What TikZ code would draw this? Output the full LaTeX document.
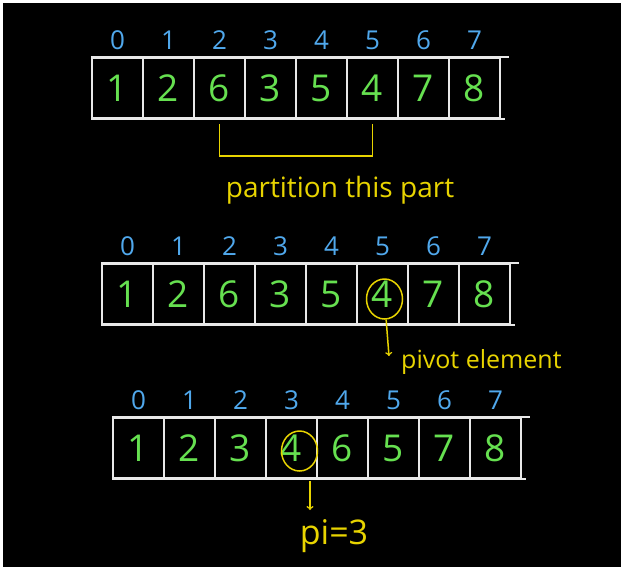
\documentclass[tikz,border=0pt]{standalone}
\usepackage{fontspec}
\setmainfont{Open Sans}
\usetikzlibrary{positioning,shapes.geometric}
\definecolor{gridwhite}{RGB}{232,232,232}
\definecolor{valgreen}{RGB}{102,224,80}
\definecolor{idxblue}{RGB}{80,168,236}
\definecolor{noteyellow}{RGB}{232,212,0}
\begin{document}
\begin{tikzpicture}[x=1pt,y=-1pt]
        \tikzstyle{cell}=[draw=gridwhite,line width=2.4pt,minimum width=51pt,minimum height=60pt,inner sep=0pt,text=valgreen,font=\fontsize{37}{37}\selectfont]
        \tikzstyle{index}=[text=idxblue,inner sep=0pt,font=\fontsize{26}{26}\selectfont]
        \tikzstyle{note}=[text=noteyellow,inner sep=0pt,font=\fontsize{28}{28}\selectfont]
        \tikzstyle{ring}=[ellipse,draw=noteyellow,line width=1.5pt,minimum width=36pt,minimum height=40pt]
        \tikzstyle{grid}=[draw=gridwhite,line width=2.4pt]
        \tikzstyle{pointer}=[draw=noteyellow,line width=1.5pt,->]
        \useasboundingbox[fill=white] (0,0) rectangle (624,571);
        \fill[black] (3,3) rectangle (621,567);
       % array before partition
       \begin{scope}
         \foreach \v [count=\i from 0] in {1,2,6,3,5,4,7,8}
           \node [cell] (a\i) at (117.5+51*\i,88) {\v};
         \foreach \i in {0,...,7}
           \node [index,above=7pt of a\i] (ia\i) {\i};
         \path[grid] (a0.north west) edge ([xshift=8pt]a7.north east);
         \path[grid] (a0.south west) edge ([xshift=4pt]a7.south east);
         \draw[noteyellow,line width=1.8pt] ([yshift=-5pt]a2.south) -- ++(0,32) -| ([yshift=-5pt]a5.south);
         \node [note] (part) at (340,190) {partition this part};
        \end{scope}
       % pivot chosen
       \begin{scope}
         \foreach \v [count=\i from 0] in {1,2,6,3,5,4,7,8}
           \node [cell] (b\i) at (127.5+51*\i,294) {\v};
         \foreach \i in {0,...,7}
           \node [index,above=7pt of b\i] (ib\i) {\i};
         \path[grid] (b0.north west) edge ([xshift=8pt]b7.north east);
         \path[grid] (b0.south west) edge ([xshift=4pt]b7.south east);
         \node [ring] (pa) at ([xshift=2pt,yshift=-5pt]b5.center) {};
         \node [note,font=\fontsize{25}{25}\selectfont,anchor=west] (pivot) at (401,362) {pivot element};
         \coordinate (pend) at (389,356);
         \draw[pointer] (pa) -- (pend);
        \end{scope}
       % after partition
       \begin{scope}
         \foreach \v [count=\i from 0] in {1,2,3,4,6,5,7,8}
           \node [cell] (c\i) at (138.5+51*\i,448) {\v};
         \foreach \i in {0,...,7}
           \node [index,above=7pt of c\i] (ic\i) {\i};
         \path[grid] (c0.north west) edge ([xshift=8pt]c7.north east);
         \path[grid] (c0.south west) edge ([xshift=4pt]c7.south east);
         \node [ring] (pb) at ([xshift=8pt,yshift=-3pt]c3.center) {};
         \coordinate (pstart) at (310,481);
         \coordinate (pstop) at (310,510);
         \node [note,font=\fontsize{34}{34}\selectfont] (pi) at (334,536) {pi=3};
         \draw[pointer] (pstart) -- (pstop);
        \end{scope}
      \end{tikzpicture}
\end{document}
